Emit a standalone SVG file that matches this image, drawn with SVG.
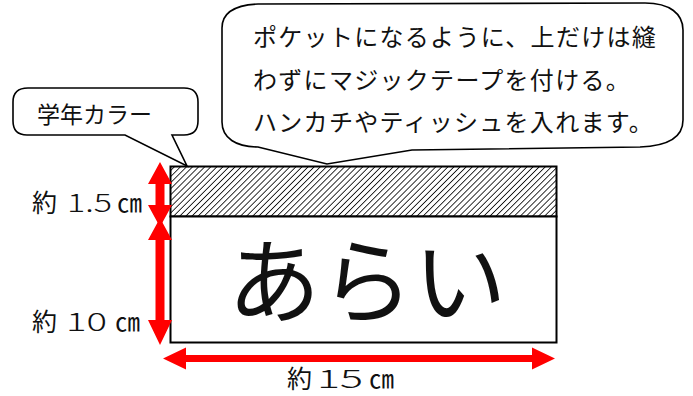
<svg xmlns="http://www.w3.org/2000/svg" width="693" height="396" viewBox="0 0 693 396">
<defs>
<style>
.t{font-family:"Noto Sans CJK JP","Noto Sans CJK SC",sans-serif;fill:#111;}
.d{font-weight:300;}
.callout{fill:#fff;stroke:#000;stroke-width:1.6;stroke-linejoin:miter;}
.box{stroke:#000;stroke-width:2;}
.red{fill:#ff0000;stroke:none;}
</style>
<pattern id="hatch" patternUnits="userSpaceOnUse" width="4.3" height="4.3" patternTransform="rotate(45)">
<rect width="4.3" height="4.3" fill="#fff"/>
<line x1="0" y1="0" x2="0" y2="4.3" stroke="#000" stroke-width="1.6"/>
</pattern>
</defs>
<rect width="693" height="396" fill="#fff"/>

<g id="bag">
<rect class="box" x="170.5" y="166.5" width="386" height="50" fill="url(#hatch)"/>
<rect class="box" x="170.5" y="216.5" width="386" height="126" fill="#fff"/>
<text class="t" x="367" y="316" font-size="93" text-anchor="middle">あらい</text>
</g>

<g id="callout-color">
<path class="callout" d="M 28,88 L 184,88 Q 198,88 198,102 L 198,121 Q 198,135 184,135 L 172,135 L 187,166 L 125,135 L 27,135 Q 13,135 13,121 L 13,102 Q 13,88 28,88 Z"/>
<text class="t" x="37" y="123" font-size="23">学年カラー</text>
</g>

<g id="callout-pocket">
<path class="callout" d="M 222,28 C 222,12 236,5 258,4 L 645,3 C 670,3 683,14 683,30 L 683,120 C 683,138 668,146 640,147 L 412,150 L 327,164 L 258,147 C 236,147 222,138 222,122 Z"/>
<text class="t" font-size="24" letter-spacing="1.3">
<tspan x="253" y="46">ポケットになるように、上だけは縫</tspan>
<tspan x="253" y="89">わずにマジックテープを付ける。</tspan>
<tspan x="253" y="131">ハンカチやティッシュを入れます。</tspan>
</text>
</g>

<g id="connectors">
<path class="red" d="M160,162 L172,184 L164.5,184 L164.5,205 L172,205 L160,227 L148,205 L155.5,205 L155.5,184 L148,184 Z"/>
<path class="red" d="M160,218 L172,240 L164.5,240 L164.5,320 L172,320 L160,345 L148,320 L155.5,320 L155.5,240 L148,240 Z"/>
<path class="red" d="M163,358.5 L186,347.5 L186,355 L532,355 L532,347.5 L555,358.5 L532,369.5 L532,362 L186,362 L186,369.5 Z"/>
</g>

<g id="labels">
<text class="t" font-size="25" y="212"><tspan x="32">約</tspan><tspan class="d" x="67" textLength="45" lengthAdjust="spacingAndGlyphs">1.5</tspan><tspan x="117">㎝</tspan></text>
<text class="t" font-size="25" y="331"><tspan x="32">約</tspan><tspan class="d" x="66" textLength="41" lengthAdjust="spacingAndGlyphs">10</tspan><tspan x="115">㎝</tspan></text>
<text class="t" font-size="25" y="388"><tspan x="287">約</tspan><tspan class="d" x="317" textLength="46" lengthAdjust="spacingAndGlyphs">15</tspan><tspan x="369">㎝</tspan></text>
</g>
</svg>
